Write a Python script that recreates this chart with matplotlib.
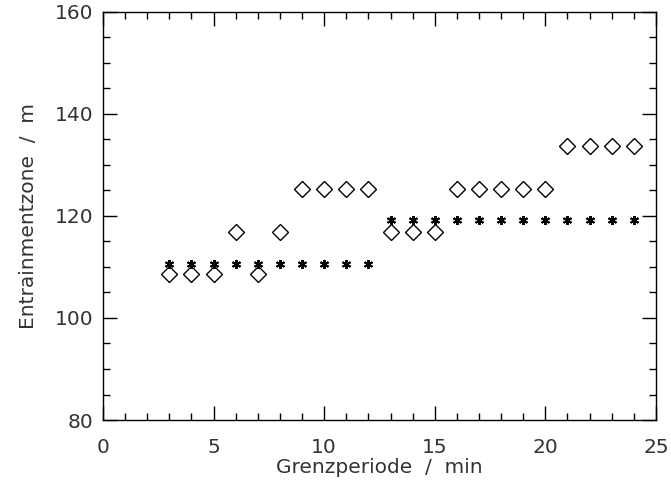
import matplotlib
matplotlib.use("Agg")
import matplotlib.pyplot as plt
from matplotlib.ticker import MultipleLocator

x_vals = list(range(3, 25))
diamond_vals = [108.6, 108.6, 108.6, 116.9, 108.6, 116.9,
                125.3, 125.3, 125.3, 125.3,
                116.9, 116.9, 116.9,
                125.3, 125.3, 125.3, 125.3, 125.3,
                133.6, 133.6, 133.6, 133.6]
star_vals = [110.6] * 10 + [119.1] * 12
x_ticks = [0, 5, 10, 15, 20, 25]
y_ticks = [80, 100, 120, 140, 160]

plt.rcParams['font.family'] = ['DejaVu Sans']
fig = plt.figure(figsize=(6.71, 4.88), dpi=100)
ax = fig.add_axes([0.1535, 0.1393, 0.9776 - 0.1535, 0.976 - 0.1393])

ax.plot(x_vals, diamond_vals, linestyle='none', marker='D', markersize=8,
        markerfacecolor='none', markeredgecolor='black', markeredgewidth=1.0)
ax.plot(x_vals, star_vals, linestyle='none', marker=(6, 2, 0), markersize=6.5,
        color='black', markeredgewidth=1.4)

ax.set_xlim(0, 25)
ax.set_ylim(80, 160)
ax.set_xticks(x_ticks)
ax.set_yticks(y_ticks)
ax.xaxis.set_minor_locator(MultipleLocator(1))
ax.yaxis.set_minor_locator(MultipleLocator(5))
ax.tick_params(which='both', direction='in', top=True, right=True,
               labelsize=14.5, labelcolor='#333333', width=1.0)
ax.tick_params(which='major', length=10)
ax.tick_params(which='minor', length=5)
ax.tick_params(axis='x', which='major', pad=13)
ax.tick_params(axis='y', which='major', pad=7)
for s in ax.spines.values():
    s.set_linewidth(1.0)
ax.set_xlabel('Grenzperiode  /  min', fontsize=14.5, color='#333333', labelpad=1)
ax.set_ylabel('Entrainmentzone  /  m', fontsize=14.5, color='#333333', labelpad=12)

fig.savefig('out.png', dpi=100)
